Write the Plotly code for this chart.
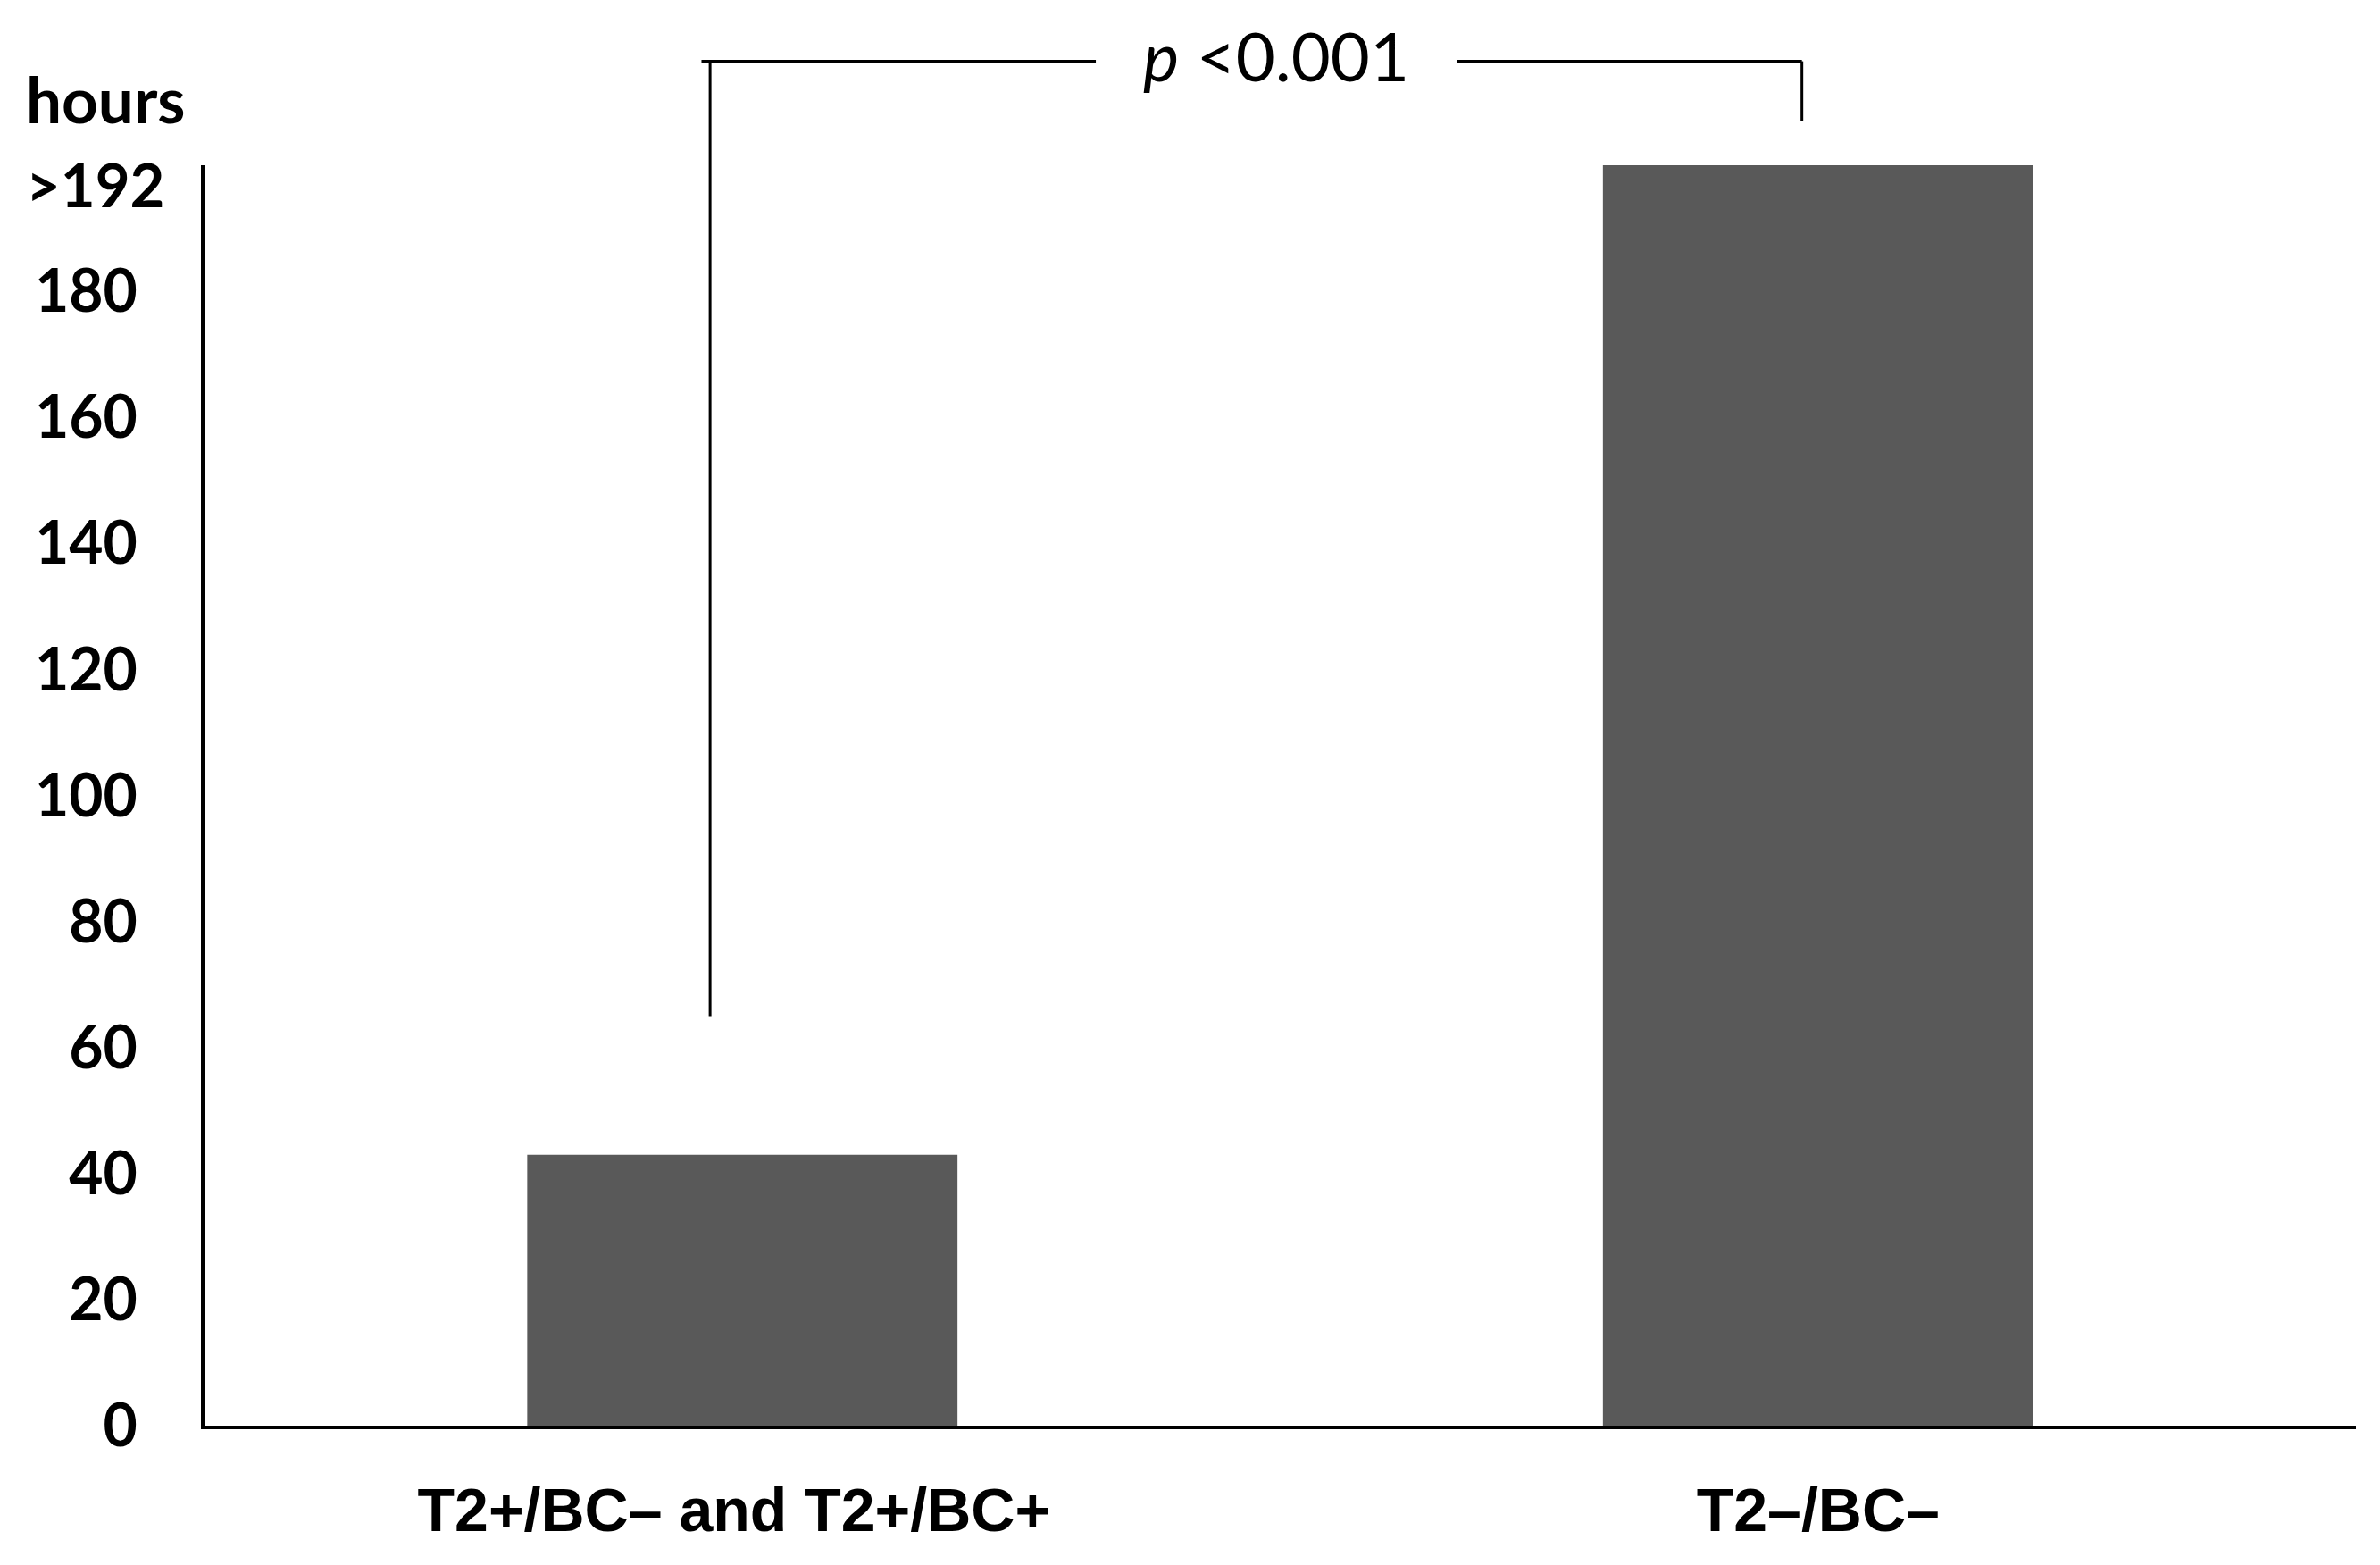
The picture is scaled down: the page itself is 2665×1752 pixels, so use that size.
import plotly.graph_objects as go

# ---- data ----
categories = ["T2+/BC– and T2+/BC+", "T2–/BC–"]
hours = [43, 200]
y_ticks = [0, 20, 40, 60, 80, 100, 120, 140, 160, 180]
y_max = 200
top_label_value = 197
top_label_text = ">192"
p_text = "<i>p</i> <0.001"
# bracket (category positions and y-values)
bracket_left_cat = -0.03
bracket_right_cat = 0.985
bracket_top = 216.5
bracket_left_bottom = 65
bracket_right_bottom = 207
bracket_gap = (0.4143, 0.5820)  # paper-x gap around the p text

BODY = 8  # default browser body margin
W, H = 2665 - BODY, 1752 - BODY
BAR_COLOR = "#595959"
TICK_FONT = dict(family="Lato, Calibri, sans-serif", size=66, color="black")

fig = go.Figure()
fig.add_trace(go.Bar(
    x=categories, y=hours, marker=dict(color=BAR_COLOR, line=dict(width=0)),
    width=0.4, hoverinfo="skip", showlegend=False))

def px_cat(c):
    return (c + 0.5) / len(categories)

def py(v):
    return v / y_max

xl, xr = px_cat(bracket_left_cat), px_cat(bracket_right_cat)
yt = py(bracket_top)
line = dict(color="black", width=3)
shapes = [
    dict(type="line", xref="paper", yref="paper", x0=xl, x1=xl, y0=py(bracket_left_bottom), y1=yt, line=line),
    dict(type="line", xref="paper", yref="paper", x0=xl - 0.004, x1=bracket_gap[0], y0=yt, y1=yt, line=line),
    dict(type="line", xref="paper", yref="paper", x0=bracket_gap[1], x1=xr, y0=yt, y1=yt, line=line),
    dict(type="line", xref="paper", yref="paper", x0=xr, x1=xr, y0=py(bracket_right_bottom), y1=yt, line=line),
]

annotations = [
    dict(text=p_text, xref="paper", yref="paper", x=(bracket_gap[0] + bracket_gap[1]) / 2, y=yt,
         xanchor="center", yanchor="middle", yshift=7, showarrow=False,
         font=dict(family="Lato, Calibri, sans-serif", size=76, color="black")),
    dict(text="<b>hours</b>", xref="paper", yref="paper", x=-0.0838, y=py(210.5),
         xanchor="left", yanchor="middle", showarrow=False,
         font=dict(family="Lato, Calibri, sans-serif", size=71, color="black")),
    dict(text="<b>" + top_label_text.replace(">", "&gt;") + "</b>", xref="paper", yref="paper",
         x=-0.0838, y=py(top_label_value), xanchor="left", yanchor="middle", showarrow=False,
         font=dict(family="Lato, Calibri, sans-serif", size=67, color="black")),
]

fig.update_layout(
    width=W, height=H,
    margin=dict(l=229 - BODY, r=27, t=185 - BODY, b=H + BODY - 1596, pad=0),
    paper_bgcolor="white", plot_bgcolor="white",
    shapes=shapes, annotations=annotations,
    bargap=0.6,
)
tick_text_x = ["<b>" + categories[0] + "\u00a0</b>", "<b>" + categories[1] + "</b>"]
fig.update_xaxes(
    showline=True, linecolor="black", linewidth=4, showgrid=False, zeroline=False,
    ticks="", tickfont=dict(family="Liberation Sans, Arial, sans-serif", size=68, color="black"),
    ticklabelstandoff=32,
    tickvals=categories, ticktext=tick_text_x,
)
fig.update_yaxes(
    range=[0, y_max], showline=True, linecolor="black", linewidth=4, showgrid=False, zeroline=False,
    ticks="", tickvals=y_ticks, ticktext=["<b>%d</b>" % v for v in y_ticks],
    tickfont=TICK_FONT, ticklabelstandoff=58,
)

fig.write_html("out.html")
